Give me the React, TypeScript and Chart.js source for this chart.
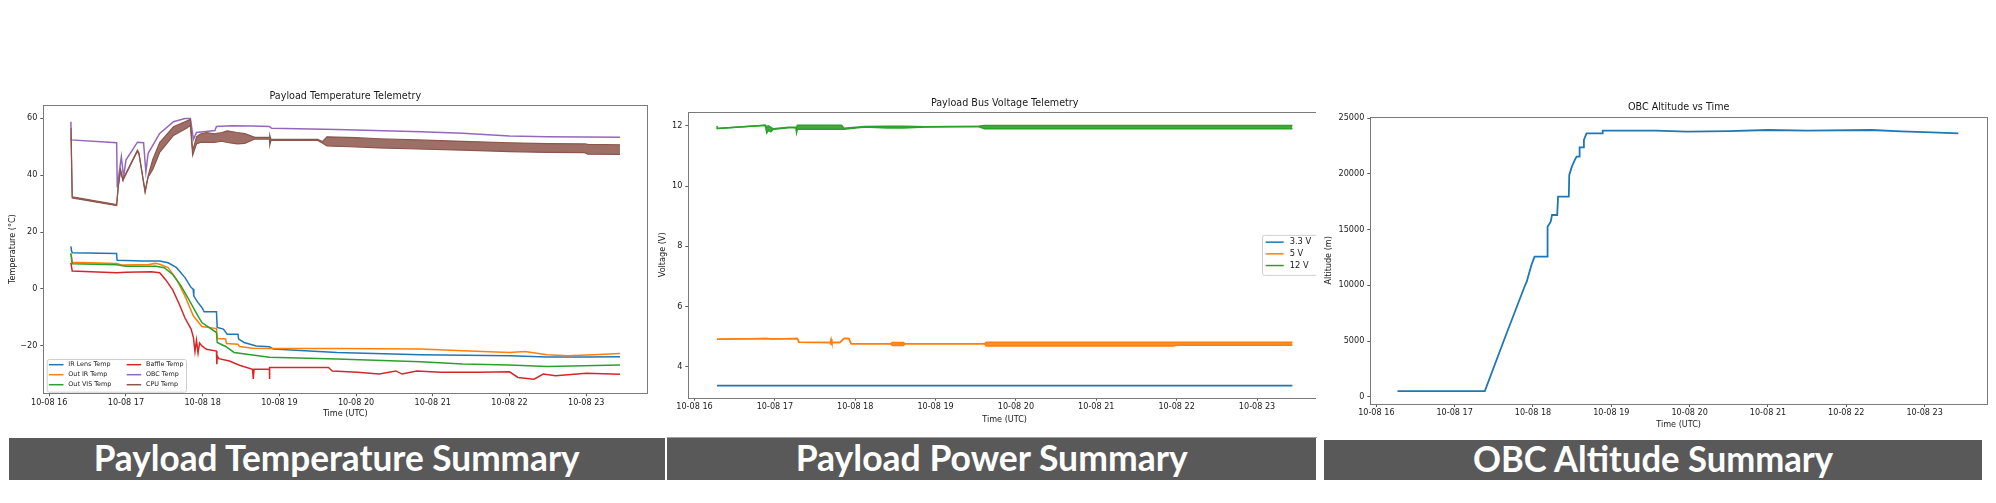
import React, { useEffect, useLayoutEffect, useRef } from 'react';
import { Chart, registerables } from 'chart.js';

Chart.register(...registerables);

// ---------------- data ----------------
const hourTicks = [16, 17, 18, 19, 20, 21, 22, 23];
const dateLabelPrefix = '10-08 ';
const tempTicks = [-20, 0, 20, 40, 60];
const voltTicks = [4, 6, 8, 10, 12];
const altTicks = [0, 5000, 10000, 15000, 20000, 25000];

// Payload temperature telemetry (time in decimal hours UTC, °C)
const irLensTime = [16.283, 16.29, 16.30, 16.878, 16.885, 17.0, 17.2, 17.44, 17.55, 17.66, 17.77, 17.85, 17.875, 17.885, 17.94, 17.99, 18.02, 18.18, 18.19, 18.27, 18.32, 18.46, 18.47, 18.54, 18.70, 18.87, 18.92, 19.75, 20.84, 22.0, 22.49, 23.0, 23.44];
const irLensTemp = [15.0, 13.5, 12.7, 12.5, 10.1, 10.0, 9.8, 9.8, 9.2, 7.5, 4.0, 0.5, 0.0, -2.5, -4.8, -6.5, -8.0, -8.0, -13.5, -14.1, -15.9, -15.9, -17.6, -18.8, -20.0, -20.3, -21.1, -22.3, -23.1, -23.5, -23.9, -23.9, -23.8];

const outIrTime = [16.283, 16.30, 16.88, 16.95, 17.30, 17.39, 17.45, 17.55, 17.66, 17.77, 17.88, 17.99, 18.18, 18.19, 18.30, 18.31, 18.46, 18.48, 18.65, 18.87, 19.75, 20.84, 21.39, 22.0, 22.2, 22.49, 22.76, 23.1, 23.44];
const outIrTemp = [12.7, 9.4, 9.0, 8.4, 8.6, 9.0, 8.6, 7.5, 3.4, -2.5, -9.5, -13.2, -13.9, -17.4, -17.6, -19.2, -19.4, -20.2, -20.8, -20.9, -20.9, -21.1, -21.7, -22.3, -22.0, -23.1, -23.5, -23.1, -22.7];

const outVisTime = [16.283, 16.30, 16.88, 17.0, 17.39, 17.50, 17.61, 17.72, 17.83, 17.94, 17.99, 18.18, 18.19, 18.30, 18.41, 18.65, 18.87, 19.75, 20.84, 21.39, 22.0, 22.49, 23.44];
const outVisTemp = [12.3, 8.9, 8.5, 8.0, 8.0, 7.5, 5.1, 1.0, -4.2, -9.5, -11.8, -15.3, -18.8, -20.2, -22.3, -23.2, -24.0, -24.6, -25.6, -26.4, -26.7, -27.2, -26.7];

const baffleTime = [16.283, 16.30, 16.88, 17.00, 17.33, 17.44, 17.52, 17.61, 17.69, 17.77, 17.85, 17.88, 17.90, 17.92, 17.94, 17.96, 17.99, 18.05, 18.18, 18.185, 18.19, 18.21, 18.35, 18.48, 18.65, 18.66, 18.67, 18.87, 18.871, 18.875, 19.64, 19.69, 20.02, 20.30, 20.52, 20.60, 20.79, 21.10, 21.60, 22.00, 22.11, 22.32, 22.44, 22.60, 23.00, 23.44];
const baffleTemp = [9.2, 6.3, 5.7, 5.9, 6.1, 5.7, 3.2, -0.3, -5.0, -10.2, -14.1, -17.1, -22.0, -18.0, -22.5, -19.0, -20.0, -21.2, -21.8, -26.4, -23.5, -24.5, -25.3, -26.8, -28.2, -31.6, -28.2, -28.2, -31.6, -27.6, -27.6, -28.8, -29.3, -29.9, -28.8, -29.9, -28.8, -29.3, -29.3, -29.1, -31.1, -31.7, -29.9, -30.5, -29.6, -30.0];

const obcTime = [16.283, 16.285, 16.879, 16.887, 16.94, 16.97, 17.0, 17.15, 17.23, 17.26, 17.29, 17.44, 17.62, 17.77, 17.84, 17.88, 17.92, 18.16, 18.18, 18.38, 18.65, 18.87, 18.90, 19.75, 20.84, 21.39, 22.0, 22.49, 23.44];
const obcTemp = [58.8, 52.4, 51.4, 35.7, 46.5, 39.3, 45.3, 51.6, 51.4, 41.2, 47.7, 54.7, 58.8, 59.9, 59.9, 52.6, 55.0, 55.7, 57.1, 57.4, 57.3, 57.1, 56.5, 56.1, 55.3, 54.7, 53.8, 53.5, 53.3];

// CPU temperature is very noisy: upper and lower envelope of the trace
const cpuTime = [16.283, 16.285, 16.30, 16.879, 16.90, 16.93, 16.96, 17.15, 17.17, 17.25, 17.29, 17.35, 17.44, 17.62, 17.79, 17.84, 17.87, 17.92, 17.97, 18.05, 18.15, 18.25, 18.32, 18.45, 18.55, 18.68, 18.87, 18.875, 18.89, 19.50, 19.56, 19.62, 20.00, 20.30, 20.80, 21.39, 22.00, 22.49, 22.98, 23.02, 23.44];
const cpuTempHigh = [56.5, 56.5, 32.4, 29.7, 36.2, 42.0, 38.5, 48.8, 47.8, 34.4, 39.8, 45.5, 51.5, 57.0, 59.0, 59.6, 48.5, 53.5, 54.5, 55.0, 54.5, 55.0, 55.6, 55.0, 54.6, 53.3, 53.3, 54.0, 52.6, 52.6, 51.8, 53.5, 53.2, 52.8, 52.4, 51.9, 51.4, 51.1, 51.0, 50.8, 50.7];
const cpuTempLow = [53.0, 53.0, 32.0, 29.3, 35.8, 41.6, 38.1, 48.4, 47.4, 34.0, 39.4, 42.0, 48.0, 54.0, 56.5, 57.5, 47.0, 51.0, 51.5, 51.5, 51.5, 52.0, 51.5, 51.0, 51.2, 52.7, 52.7, 50.6, 52.2, 52.2, 51.3, 50.3, 49.9, 49.6, 49.2, 48.8, 48.3, 48.0, 47.9, 47.4, 47.3];

// Payload bus voltage telemetry (V)
const v33Time = [16.28, 17.0, 18.0, 19.0, 20.0, 21.0, 22.0, 23.44];
const v33Volt = [3.37, 3.37, 3.37, 3.37, 3.37, 3.37, 3.37, 3.37];

const v5Time = [16.28, 16.90, 16.95, 17.28, 17.30, 17.69, 17.70, 17.71, 17.81, 17.86, 17.92, 17.95, 18.44, 18.46, 18.60, 18.62, 19.61, 19.63, 21.96, 22.00, 23.44];
const v5High = [4.91, 4.94, 4.92, 4.94, 4.81, 4.80, 4.92, 4.80, 4.80, 4.94, 4.94, 4.76, 4.76, 4.80, 4.80, 4.76, 4.76, 4.81, 4.81, 4.81, 4.81];
const v5Low = [4.91, 4.94, 4.92, 4.94, 4.81, 4.80, 4.74, 4.80, 4.80, 4.94, 4.94, 4.76, 4.76, 4.70, 4.70, 4.76, 4.76, 4.69, 4.69, 4.71, 4.71];

const v12Time = [16.28, 16.285, 16.88, 16.90, 16.92, 16.95, 16.98, 17.17, 17.26, 17.27, 17.28, 17.83, 17.86, 18.12, 18.40, 18.60, 18.87, 19.53, 19.61, 23.44];
const v12High = [12.00, 11.91, 12.02, 11.97, 12.00, 11.95, 11.90, 11.95, 11.95, 11.93, 12.02, 12.02, 11.92, 11.98, 11.99, 11.99, 11.97, 11.99, 12.01, 12.01];
const v12Low = [11.89, 11.91, 12.02, 11.77, 11.85, 11.80, 11.89, 11.94, 11.94, 11.77, 11.89, 11.89, 11.89, 11.96, 11.93, 11.93, 11.96, 11.98, 11.90, 11.90];

// OBC altitude (m)
const altTime = [16.27, 17.385, 17.65, 17.90, 17.92, 17.95, 17.98, 18.02, 18.183, 18.186, 18.226, 18.243, 18.309, 18.32, 18.457, 18.463, 18.496, 18.53, 18.556, 18.59, 18.595, 18.639, 18.65, 18.683, 18.886, 18.89, 19.57, 19.96, 20.50, 21.00, 21.50, 22.32, 22.70, 23.09, 23.43];
const altitude = [509, 509, 5450, 10030, 10329, 11078, 11826, 12575, 12575, 15270, 15719, 16317, 16317, 17964, 17964, 19910, 20659, 21200, 21557, 21557, 22395, 22395, 23054, 23653, 23653, 23892, 23892, 23802, 23850, 23950, 23900, 23950, 23820, 23740, 23653];

const bannerTexts = ['Payload Temperature Summary', 'Payload Power Summary', 'OBC Altitude Summary'];

// ---------------- styling ----------------
const FONT = "'DejaVu Sans', sans-serif";
const TXT = '#1a1a1a';
const FRAME = '#7a7a7a';
const C = {
  blue: '#1f77b4', orange: '#ff7f0e', green: '#2ca02c', red: '#d62728', purple: '#9467bd', brown: '#8c564b',
};

const pts = (xs: number[], ys: number[]) => xs.map((x, i) => ({ x, y: ys[i] }));
const minus = (v: number) => (v < 0 ? '\u2212' + Math.abs(v) : String(v));

const framePlugin = {
  id: 'frame',
  afterDatasetsDraw(chart: any) {
    const { ctx, chartArea: a } = chart;
    ctx.save();
    ctx.strokeStyle = FRAME;
    ctx.lineWidth = 1;
    ctx.strokeRect(Math.round(a.left) + 0.5, Math.round(a.top) + 0.5, Math.round(a.right - a.left), Math.round(a.bottom - a.top));
    ctx.restore();
  },
};

const boxLegendPlugin = {
  id: 'boxLegend',
  afterDraw(chart: any, _args: any, o: any) {
    if (!o || !o.items) return;
    const { ctx, chartArea: a } = chart;
    let x0: number, y0: number;
    if (o.anchor === 'lowerLeft') {
      x0 = a.left + o.dx;
      y0 = a.bottom - o.dy - o.h;
    } else {
      x0 = a.right - o.dx - o.w;
      y0 = (a.top + a.bottom) / 2 - o.h / 2;
    }
    ctx.save();
    ctx.beginPath();
    ctx.roundRect(x0 + 0.5, y0 + 0.5, o.w, o.h, 2);
    ctx.fillStyle = 'rgba(255,255,255,0.85)';
    ctx.fill();
    ctx.strokeStyle = '#cfcfcf';
    ctx.lineWidth = 1;
    ctx.stroke();
    ctx.font = `${o.fontSize}px ${FONT}`;
    ctx.textBaseline = 'middle';
    ctx.textAlign = 'left';
    o.items.forEach((it: any) => {
      const lx = x0 + o.colX[it.col];
      const ly = y0 + o.rowY[it.row];
      ctx.strokeStyle = it.color;
      ctx.lineWidth = 1.5;
      ctx.beginPath();
      ctx.moveTo(lx, ly);
      ctx.lineTo(lx + o.lineLen, ly);
      ctx.stroke();
      ctx.fillStyle = TXT;
      ctx.fillText(it.label, lx + o.textOff, ly);
    });
    ctx.restore();
  },
};

function baseOptions(p: any) {
  return {
    responsive: false,
    animation: false,
    devicePixelRatio: 1,
    events: [],
    layout: { padding: { left: 0, top: 0, right: p.rightPad, bottom: 0 } },
    elements: { point: { radius: 0 }, line: { tension: 0, borderWidth: 1.5 } },
    plugins: {
      legend: { display: false },
      tooltip: { enabled: false },
      title: {
        display: true, text: p.title, fullSize: false, color: TXT,
        font: { family: FONT, size: 9.6, weight: 'normal' },
        padding: { top: p.titleTop, bottom: p.titleBottom },
      },
      boxLegend: p.legend,
    },
    scales: {
      x: {
        type: 'linear', min: 15.923, max: 23.796,
        afterBuildTicks: (s: any) => { s.ticks = hourTicks.map((v) => ({ value: v })); },
        afterFit: (s: any) => { s.height = p.xHeight; },
        ticks: {
          autoSkip: false, maxRotation: 0, minRotation: 0, padding: 1.5, color: TXT,
          font: { family: FONT, size: 8.1 },
          callback: (v: any) => dateLabelPrefix + v,
        },
        grid: { drawOnChartArea: false, drawTicks: true, tickLength: 3, tickColor: '#333', tickWidth: 0.8 },
        border: { display: false },
        title: {
          display: true, text: 'Time (UTC)', color: TXT, font: { family: FONT, size: 8.1 },
          padding: { top: 0, bottom: p.xTitlePad },
        },
      },
      y: {
        type: 'linear', min: p.yMin, max: p.yMax,
        afterBuildTicks: (s: any) => { s.ticks = p.yTicks.map((v: number) => ({ value: v })); },
        afterFit: (s: any) => { s.width = p.yWidth; },
        ticks: {
          autoSkip: false, padding: 3, color: TXT, font: { family: FONT, size: 8.1 },
          callback: p.yFmt,
        },
        grid: { drawOnChartArea: false, drawTicks: true, tickLength: 3, tickColor: '#333', tickWidth: 0.8 },
        border: { display: false },
        title: {
          display: true, text: p.yTitle, color: TXT, font: { family: FONT, size: 8.1 },
          padding: { top: p.yTitlePad, bottom: 0 },
        },
      },
    },
  };
}

function lineDs(label: string, xs: number[], ys: number[], color: string, order: number, extra: any = {}) {
  return {
    label, data: pts(xs, ys), borderColor: color, backgroundColor: color, fill: false,
    borderWidth: 1.5, pointRadius: 0, order, ...extra,
  };
}

function tempConfig(): any {
  return {
    type: 'line',
    data: {
      datasets: [
        lineDs('IR Lens Temp', irLensTime, irLensTemp, C.blue, 10),
        lineDs('Out IR Temp', outIrTime, outIrTemp, C.orange, 9),
        lineDs('Out VIS Temp', outVisTime, outVisTemp, C.green, 8),
        lineDs('Baffle Temp', baffleTime, baffleTemp, C.red, 7),
        lineDs('OBC Temp', obcTime, obcTemp, C.purple, 6),
        lineDs('CPU Temp', cpuTime, cpuTempHigh, C.brown, 5, { fill: '+1', backgroundColor: 'rgba(140,86,75,0.85)', borderWidth: 1.2 }),
        lineDs('CPU Temp (low)', cpuTime, cpuTempLow, C.brown, 4, { borderWidth: 1.2 }),
      ],
    },
    options: baseOptions({
      title: 'Payload Temperature Telemetry', titleTop: 5.3, titleBottom: 3.18,
      yTitle: 'Temperature (°C)', yTitlePad: 7.7, yWidth: 43.3, xHeight: 36.7, xTitlePad: 11.1, rightPad: 7.7,
      yMin: -36.66, yMax: 64.67, yTicks: tempTicks, yFmt: (v: any) => minus(v),
      legend: {
        anchor: 'lowerLeft', dx: 3.4, dy: 1.6, w: 139.3, h: 32.7, fontSize: 6.4,
        colX: [2.3, 80], rowY: [5.7, 15.7, 25.7], lineLen: 14.5, textOff: 19.3,
        items: [
          { label: 'IR Lens Temp', color: C.blue, col: 0, row: 0 },
          { label: 'Out IR Temp', color: C.orange, col: 0, row: 1 },
          { label: 'Out VIS Temp', color: C.green, col: 0, row: 2 },
          { label: 'Baffle Temp', color: C.red, col: 1, row: 0 },
          { label: 'OBC Temp', color: C.purple, col: 1, row: 1 },
          { label: 'CPU Temp', color: C.brown, col: 1, row: 2 },
        ],
      },
    }),
    plugins: [framePlugin, boxLegendPlugin],
  };
}

function voltConfig(): any {
  return {
    type: 'line',
    data: {
      datasets: [
        lineDs('3.3 V', v33Time, v33Volt, C.blue, 10, { borderWidth: 1.8 }),
        lineDs('5 V', v5Time, v5High, C.orange, 9, { fill: '+1', backgroundColor: 'rgba(255,127,14,0.9)' }),
        lineDs('5 V (low)', v5Time, v5Low, C.orange, 8),
        lineDs('12 V', v12Time, v12High, C.green, 7, { fill: '+1', backgroundColor: 'rgba(44,160,44,0.9)' }),
        lineDs('12 V (low)', v12Time, v12Low, C.green, 6),
      ],
    },
    options: baseOptions({
      title: 'Payload Bus Voltage Telemetry', titleTop: 12.24, titleBottom: 3.24,
      yTitle: 'Voltage (V)', yTitlePad: 3.1, yWidth: 33.3, xHeight: 32.3, xTitlePad: 5.14, rightPad: 14,
      yMin: 2.97, yMax: 12.46, yTicks: voltTicks, yFmt: (v: any) => String(v),
      legend: {
        anchor: 'centerRight', dx: 1, w: 58, h: 40, fontSize: 8.3,
        colX: [3.7], rowY: [7.3, 19, 30.7], lineLen: 18, textOff: 24,
        items: [
          { label: '3.3 V', color: C.blue, col: 0, row: 0 },
          { label: '5 V', color: C.orange, col: 0, row: 1 },
          { label: '12 V', color: C.green, col: 0, row: 2 },
        ],
      },
    }),
    plugins: [framePlugin, boxLegendPlugin],
  };
}

function altConfig(): any {
  return {
    type: 'line',
    data: {
      datasets: [lineDs('Altitude', altTime, altitude, C.blue, 1, { borderWidth: 1.8 })],
    },
    options: baseOptions({
      title: 'OBC Altitude vs Time', titleTop: 16.44, titleBottom: 3.74,
      yTitle: 'Altitude (m)', yTitlePad: 7.7, yWidth: 54.3, xHeight: 26, xTitlePad: 0.5, rightPad: 9,
      yMin: -656, yMax: 25144, yTicks: altTicks, yFmt: (v: any) => String(v),
      legend: null,
    }),
    plugins: [framePlugin],
  };
}

function ChartBox({ left, top, width, height, clipWidth, make }: any) {
  const ref = useRef<HTMLCanvasElement>(null);
  useEffect(() => {
    const chart = new Chart(ref.current as HTMLCanvasElement, make());
    return () => chart.destroy();
  }, []);
  return (
    <div style={{ position: 'absolute', left, top, width: clipWidth ?? width, height, overflow: 'hidden', background: '#fff' }}>
      <canvas ref={ref} width={width} height={height} style={{ width, height, display: 'block' }} />
    </div>
  );
}

function Banner({ left, top, width, height, text, textWidth }: any) {
  const ref = useRef<HTMLSpanElement>(null);
  useLayoutEffect(() => {
    const s = ref.current;
    if (!s) return;
    s.style.transform = 'none';
    const w = s.getBoundingClientRect().width;
    if (w > 0) s.style.transform = `translateY(-2px) scaleX(${textWidth / w})`;
  }, []);
  return (
    <div style={{
      position: 'absolute', left, top, width, height, background: '#595959',
      display: 'flex', alignItems: 'center', justifyContent: 'center', overflow: 'hidden',
    }}>
      <span ref={ref} style={{
        fontFamily: 'Lato, "Open Sans", sans-serif', fontWeight: 700, fontSize: 36, color: '#fff',
        whiteSpace: 'nowrap', display: 'inline-block', lineHeight: `${height}px`, transformOrigin: 'center',
      }}>{text}</span>
    </div>
  );
}

export default function App() {
  return (
    <div style={{ position: 'absolute', left: 0, top: 0, width: 1996, height: 503, background: '#fff', overflow: 'hidden' }}>
      <ChartBox left={0} top={85} width={655} height={345} make={tempConfig} />
      <ChartBox left={655} top={85} width={680} clipWidth={661} height={345} make={voltConfig} />
      <ChartBox left={1316} top={85} width={680} height={345} make={altConfig} />
      <div style={{ position: 'absolute', left: 667, top: 437, width: 650, height: 1, background: '#a0a0a0' }} />
      <Banner left={9} top={438} width={656} height={42} text={bannerTexts[0]} textWidth={486} />
      <Banner left={667} top={438} width={649} height={42} text={bannerTexts[1]} textWidth={392} />
      <Banner left={1324} top={440} width={658} height={40} text={bannerTexts[2]} textWidth={360} />
    </div>
  );
}
